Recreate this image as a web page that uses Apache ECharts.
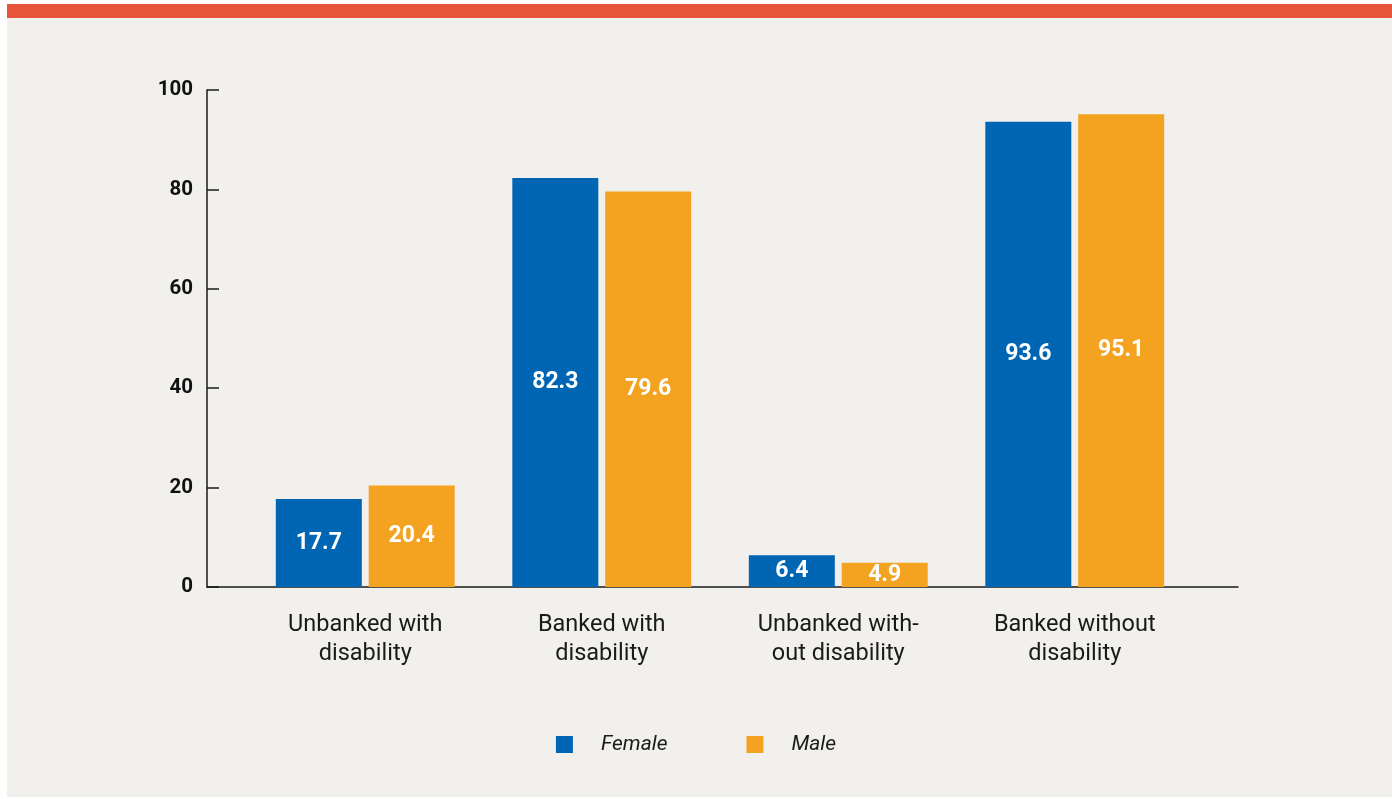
<!DOCTYPE html>
<html>
<head>
<meta charset="utf-8">
<script src="https://cdn.jsdelivr.net/npm/echarts@6/dist/echarts.min.js"></script>
<style>
  html, body { margin:0; padding:0; background:#ffffff; width:1392px; height:799px; overflow:hidden; }
  #panel { position:absolute; left:7px; top:4px; width:1385px; height:793px; background:#f1f0ed; }
  #topbar { position:absolute; left:7px; top:4px; width:1385px; height:14px; background:#e9553b; }
  #chart { position:absolute; left:0; top:0; width:1392px; height:799px; }
</style>
</head>
<body>
<div id="panel"></div>
<div id="topbar"></div>
<div id="chart"></div>
<script>
const categories = ['Unbanked with\ndisability', 'Banked with\ndisability', 'Unbanked with-\nout disability', 'Banked without\ndisability'];
const femaleValues = [17.7, 82.3, 6.4, 93.6];
const maleValues = [20.4, 79.6, 4.9, 95.1];
const seriesNames = ['Female', 'Male'];
const yTicks = [0, 20, 40, 60, 80, 100];

const FONT = 'Roboto, "Noto Sans", sans-serif';
const chart = echarts.init(document.getElementById('chart'), null, { renderer: 'canvas' });

const labelStyle = {
  show: true,
  position: 'inside',
  color: '#ffffff',
  fontFamily: FONT,
  fontWeight: 'bold',
  fontSize: 23,
  formatter: p => p.value.toFixed(1)
};

chart.setOption({
  animation: false,
  backgroundColor: 'transparent',
  grid: [
    { left: 247, right: 199, top: 90, bottom: 212 },
    { left: 207, right: 154, top: 90, bottom: 212 }
  ],
  xAxis: [
    {
      type: 'category', gridIndex: 0, data: categories,
      axisLine: { show: false }, axisTick: { show: false },
      axisLabel: { color: '#1a1a1a', fontFamily: FONT, fontSize: 23.5, lineHeight: 29, margin: 24, interval: 0 }
    },
    {
      type: 'value', gridIndex: 1, min: 0, max: 1,
      axisLine: { show: true, lineStyle: { color: '#1a1a1a', width: 1.5 } },
      axisTick: { show: false }, axisLabel: { show: false }, splitLine: { show: false }
    }
  ],
  yAxis: [
    { type: 'value', gridIndex: 0, min: yTicks[0], max: yTicks[yTicks.length - 1], show: false, splitLine: { show: false } },
    {
      type: 'value', gridIndex: 1, min: yTicks[0], max: yTicks[yTicks.length - 1], interval: 20,
      axisLine: { show: true, lineStyle: { color: '#1a1a1a', width: 1.5 } },
      axisTick: { show: true, inside: true, length: 12, lineStyle: { color: '#1a1a1a', width: 1.5 } },
      axisLabel: { color: '#111', fontFamily: FONT, fontWeight: 'bold', fontSize: 20.5, margin: 14 },
      splitLine: { show: false }
    }
  ],
  legend: {
    data: seriesNames,
    bottom: 39,
    left: 'center',
    itemWidth: 17, itemHeight: 17, itemGap: 79,
    icon: 'rect',
    textStyle: { fontFamily: FONT, fontStyle: 'italic', fontSize: 21, color: '#1a1a1a', padding: [0, 0, 0, 23] }
  },
  series: [
    {
      name: seriesNames[0], type: 'bar', xAxisIndex: 0, yAxisIndex: 0,
      data: femaleValues, barWidth: 86, barGap: '8%',
      itemStyle: { color: '#0066b3' }, label: labelStyle, z: 1
    },
    {
      name: seriesNames[1], type: 'bar', xAxisIndex: 0, yAxisIndex: 0,
      data: maleValues, barWidth: 86, barGap: '8%',
      itemStyle: { color: '#f4a321' }, label: labelStyle, z: 1
    }
  ]
});
</script>
</body>
</html>
